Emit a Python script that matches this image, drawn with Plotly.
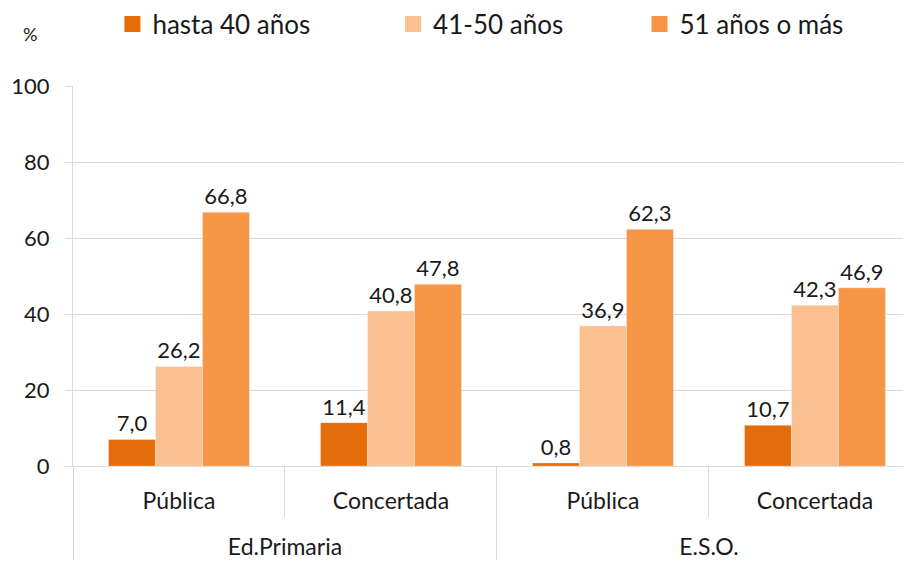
import plotly.graph_objects as go

levels = ["Ed.Primaria", "Ed.Primaria", "E.S.O.", "E.S.O."]
sectors = ["Pública", "Concertada", "Pública", "Concertada"]
series_names = ["hasta 40 años", "41-50 años", "51 años o más"]
hasta40 = [7.0, 11.4, 0.8, 10.7]
de41a50 = [26.2, 40.8, 36.9, 42.3]
mas51 = [66.8, 47.8, 62.3, 46.9]
colors = ["#E46C0A", "#FAC090", "#F79646"]
yticks = [0, 20, 40, 60, 80, 100]

FONT = "Lato"
GRID = "#D9D9D9"
TXT = "#1a1a1a"

fig = go.Figure()
for name, vals, col in zip(series_names, [hasta40, de41a50, mas51], colors):
    fig.add_trace(go.Bar(
        x=[levels, [s + "<br> " for s in sectors]], y=vals, name=name,
        marker=dict(color=col, line=dict(color="rgba(255,255,255,0.5)", width=0.6)),
        text=[f"{v:.1f}".replace(".", ",") for v in vals],
        textposition="outside", cliponaxis=False,
        textfont=dict(family=FONT, size=22, color=TXT),
        showlegend=False,
    ))

legend_ids = ["legend", "legend2", "legend3"]
legend_x = [0.047, 0.382, 0.676]
for name, col, lid in zip(series_names, colors, legend_ids):
    fig.add_trace(go.Scatter(
        x=[levels[:1], [sectors[0] + "<br> "]], y=[None], mode="markers", name=name,
        marker=dict(symbol="square", size=17, color=col),
        showlegend=True, legend=lid,
    ))

H = 557
leg_common = dict(orientation="h", yref="container", yanchor="middle", y=1 - 16 / H,
                  xanchor="left",
                  font=dict(family=FONT, size=26, color=TXT), itemwidth=30,
                  bgcolor="rgba(0,0,0,0)", itemsizing="trace")
fig.update_layout(
    legend=dict(x=legend_x[0], **leg_common),
    legend2=dict(x=legend_x[1], **leg_common),
    legend3=dict(x=legend_x[2], **leg_common),
)

# page body has an 8px margin; figure is sized so the plot lands where the reference has it
fig.update_layout(
    width=903, height=H,
    margin=dict(l=65, r=0, t=78, b=99, autoexpand=False),
    paper_bgcolor="white", plot_bgcolor="white",
    barmode="group", bargap=0.335, bargroupgap=0,
    font=dict(family=FONT, size=23, color=TXT),
    xaxis=dict(
        type="multicategory", range=[-0.5, 3.453], automargin=False,
        showline=True, linecolor=GRID, linewidth=1,
        ticks="outside", tickson="boundaries", ticklen=50, tickcolor=GRID,
        dividercolor=GRID, dividerwidth=1,
        showgrid=False, ticklabelstandoff=14,
        tickfont=dict(family=FONT, size=23, color=TXT),
    ),
    yaxis=dict(
        range=[0, 100], tickvals=yticks, automargin=False,
        showline=True, linecolor=GRID, linewidth=1,
        ticks="outside", ticklen=7, tickcolor=GRID,
        showgrid=True, gridcolor=GRID, gridwidth=1,
        zeroline=False,
        ticklabelstandoff=11,
        tickfont=dict(family=FONT, size=22, color=TXT),
    ),
    annotations=[dict(text="%", xref="paper", yref="paper", x=-0.051, y=1.138,
                      xanchor="center", yanchor="middle", showarrow=False,
                      font=dict(family=FONT, size=18, color=TXT))],
)

fig.write_html("out.html")
